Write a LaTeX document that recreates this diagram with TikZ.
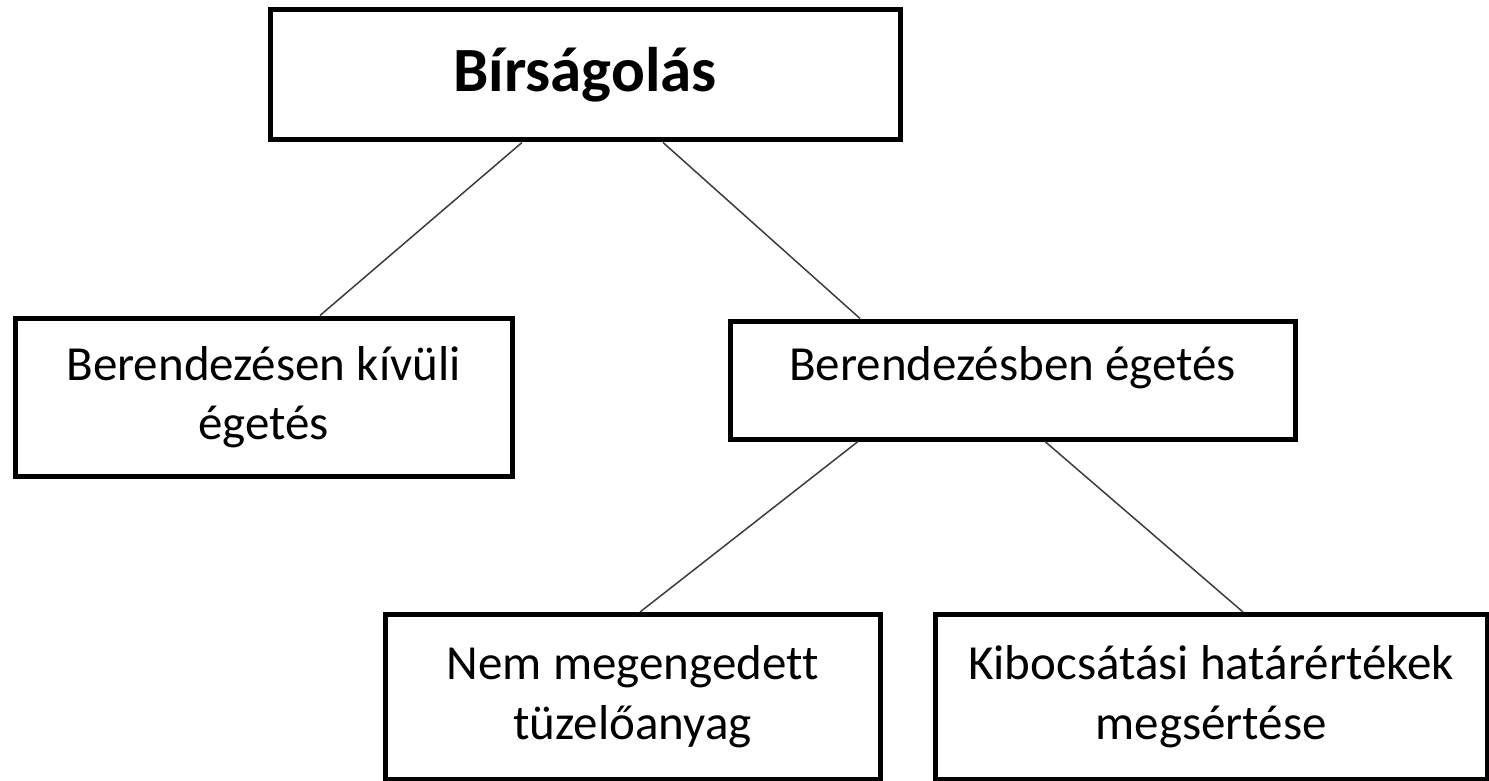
\documentclass[tikz,border=0pt]{standalone}
\usepackage{fontspec}
\setmainfont[Ligatures=CommonOff]{Carlito}
\tikzset{every picture/.style={line width=0.75pt}}
\tikzset{
  box/.style={draw, line width=2.5pt, align=center, inner sep=0pt,
    font=\fontsize{24.5}{29.5}\selectfont},
  link/.style={draw={rgb,255:red,60;green,60;blue,60}, line width=0.75pt}
}

\begin{document}
\begin{tikzpicture}[x=0.5pt,y=0.5pt,yscale=-1,xscale=1]
\useasboundingbox (0,0) rectangle (1489,781);

%Shape: Rectangle [top]
\node[box, minimum width=315pt, minimum height=65pt, font=\fontsize{31.5}{36}\selectfont\bfseries] (fine) at (585,75) {Bírságolás};
%Shape: Rectangle [left]
\node[box, minimum width=248.5pt, minimum height=79pt] (outside) at (263.5,397) {Berendezésen kívüli\\égetés};
%Shape: Rectangle [middle]
\node[box, minimum width=282.5pt, minimum height=59pt, text depth=17pt] (inside) at (1012.5,380) {Berendezésben égetés};
%Shape: Rectangle [bottom left]
\node[box, minimum width=247.5pt, minimum height=82.5pt, font=\fontsize{24.5}{30}\selectfont] (fuel) at (632.5,697) {Nem megengedett\\tüzelőanyag};
%Shape: Rectangle [bottom right]
\node[box, minimum width=276pt, minimum height=82.5pt, font=\fontsize{24.5}{30}\selectfont] (limits) at (1211,697) {Kibocsátási határértékek\\megsértése};

% Links
\draw[link] ([xshift=-31.5pt]fine.south) -- ([xshift=28.25pt]outside.north);
\draw[link] ([xshift=39pt]fine.south) -- ([xshift=-76.25pt]inside.north);
\draw[link] ([xshift=-77.25pt]inside.south) -- ([xshift=3.75pt]fuel.north);
\draw[link] ([xshift=16.25pt]inside.south) -- ([xshift=16pt]limits.north);

\end{tikzpicture}
\end{document}
